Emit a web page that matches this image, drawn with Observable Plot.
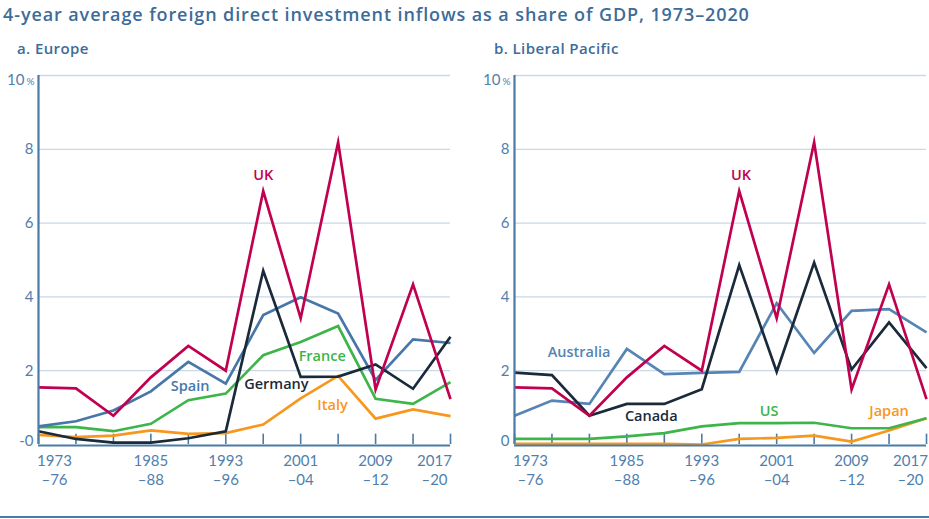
<!DOCTYPE html>
<html><head><meta charset="utf-8">
<script src="https://cdn.jsdelivr.net/npm/d3@7"></script>
<script src="https://cdn.jsdelivr.net/npm/@observablehq/plot@0.6"></script>
<style>
body{margin:0;background:#fff;font-family:"Open Sans",sans-serif;width:929px;height:519px;overflow:hidden;position:relative}
#title{height:28px;line-height:28px;padding-left:3px;font-size:18px;font-weight:600;letter-spacing:0.9px;color:#3d6c99;white-space:nowrap}
.row{display:flex}
.sub{height:40px;line-height:40px;font-size:15px;font-weight:600;letter-spacing:0.4px;color:#3d6c99;white-space:nowrap}
svg{display:block}
#rule{position:absolute;top:516px;left:0;width:929px;height:2px;background:#4a7aa5}
</style></head>
<body>
<div id="title">4-year average foreign direct investment inflows as a share of GDP, 1973–2020</div>
<div class="row">
  <div style="width:464px"><div class="sub" style="padding-left:17px">a. Europe</div><div id="eu"></div></div>
  <div style="width:465px"><div class="sub" style="padding-left:30px">b. Liberal Pacific</div><div id="pac"></div></div>
</div>
<div id="rule"></div>
<script>
// Period start years (each period spans 4 years)
const years = [1973,1977,1981,1985,1989,1993,1997,2001,2005,2009,2013,2017];
const tickYears = [1973,1985,1993,2001,2009,2017];
const yTicks = [0,2,4,6,8,10];

// FDI inflows, % of GDP (4-year averages)
const UK        = [1.55,1.52,0.78,1.82,2.67,2.00,6.87,3.42,8.19,1.49,4.34,1.23];
const Spain     = [0.49,0.63,0.92,1.44,2.24,1.65,3.51,3.99,3.55,1.75,2.85,2.75];
const France    = [0.47,0.47,0.36,0.56,1.20,1.38,2.42,2.78,3.21,1.24,1.10,1.69];
const Germany   = [0.36,0.15,0.05,0.05,0.17,0.36,4.71,1.83,1.84,2.17,1.51,2.92];
const Italy     = [0.26,0.20,0.24,0.38,0.29,0.31,0.54,1.25,1.86,0.70,0.95,0.77];
const Canada    = [1.95,1.88,0.78,1.10,1.10,1.50,4.86,1.97,4.93,2.03,3.31,2.07];
const Australia = [0.78,1.19,1.10,2.59,1.91,1.94,1.97,3.83,2.48,3.62,3.67,3.04];
const US        = [0.15,0.15,0.15,0.22,0.31,0.49,0.58,0.58,0.59,0.44,0.44,0.71];
const Japan     = [0.02,0.02,0.02,0.02,0.02,0.00,0.15,0.18,0.24,0.08,0.38,0.71];

const seriesNames  = ["UK","Spain","France","Germany","Italy","Australia","Canada","US","Japan"];
const seriesColors = ["#c1004f","#4777a8","#3db54a","#1b2a3a","#f7971e","#5584b5","#1b2a3a","#3db54a","#f7971e"];

// label anchors (data units: year, value)
const euLabels  = [["UK",1997,7.3],["Spain",1989.2,1.58],["Germany",1998.4,1.63],["France",2003.3,2.4],["Italy",2004.4,1.06]];
const pacLabels = [["UK",1997.2,7.3],["Australia",1979.9,2.49],["Canada",1987.6,0.76],["US",2000.2,0.91],["Japan",2013,0.91]];

function rowsOf(obj){
  const out=[];
  for (const [name, vals] of Object.entries(obj)) vals.forEach((v,i)=>out.push({series:name, year:years[i], value:v}));
  return out;
}
const axisColor = "#4a7aa5", tickColor="#4f80ae";
const tickFont = "Lato, 'Open Sans', sans-serif";
const line1 = y => String(y);
const line2 = y => `–${String((y+3)%100).padStart(2,"0")}`;

function xLabels(sel, dx){
  return [
    Plot.text(sel, {x:d=>d, y:0, text:line1, lineAnchor:"top", dy:11, dx, fontSize:15, fontFamily:tickFont, fill:tickColor}),
    Plot.text(sel, {x:d=>d, y:0, text:line2, lineAnchor:"top", dy:29.5, dx, fontSize:15, fontFamily:tickFont, fill:tickColor})
  ];
}

function panel(obj, labels, zeroText, width, ml, mr){
  const rows = rowsOf(obj);
  const lab = labels.map(([t,x,y])=>({t,x,y}));
  return Plot.plot({
    width, height:432, marginLeft:ml, marginRight:mr, marginTop:7, marginBottom:56,
    x:{type:"linear", domain:[1973,2017], axis:null},
    y:{domain:[0,10], axis:null},
    color:{domain:seriesNames, range:seriesColors},
    style:{fontFamily:"'Open Sans', sans-serif", overflow:"visible", background:"transparent"},
    marks:[
      Plot.ruleY(yTicks.filter(d=>d>0), {y:d=>d, stroke:"#cbd8e6", strokeWidth:1.3}),
      Plot.ruleX(years, {x:d=>d, y1:0, y2:0.28, stroke:axisColor, strokeWidth:1.6}),
      Plot.line(rows, {x:"year", y:"value", z:"series", stroke:"series", strokeWidth:2.7, strokeLinejoin:"miter", strokeMiterlimit:6, strokeLinecap:"butt"}),
      Plot.ruleX([1973], {x:d=>d, y1:0, y2:10, stroke:axisColor, strokeWidth:2.2}),
      Plot.ruleY([0], {y:d=>d, stroke:axisColor, strokeWidth:2.2, dy:1}),
      Plot.text(yTicks.filter(d=>d>0 && d<10), {x:1973, y:d=>d, text:d=>String(d), textAnchor:"end", dx:-5, fontSize:15, fontFamily:tickFont, fill:tickColor}),
      Plot.text([0], {x:1973, y:d=>d, text:()=>zeroText, textAnchor:"end", dx:-5, dy:-3, fontSize:15, fontFamily:tickFont, fill:tickColor}),
      Plot.text([10], {x:1973, y:d=>d, text:()=>"10", textAnchor:"end", dx:-14, dy:5, fontSize:15, fontFamily:tickFont, fill:tickColor}),
      Plot.text([10], {x:1973, y:d=>d, text:()=>"%", textAnchor:"end", dx:-4, dy:6, fontSize:10, fontFamily:tickFont, fill:tickColor}),
      ...xLabels(tickYears.slice(0,1), 16),
      ...xLabels(tickYears.slice(1,-1), 0),
      ...xLabels(tickYears.slice(-1), -16),
      Plot.text(lab, {x:"x", y:"y", text:"t", fill:"t", fontSize:14.5, fontWeight:600})
    ]
  });
}

document.getElementById("eu").append(panel({Italy, France, Spain, Germany, UK}, euLabels, "-0", 464, 38, 14));
document.getElementById("pac").append(panel({Japan, US, Australia, Canada, UK}, pacLabels, "0", 465, 50, 3));
</script>
</body></html>
